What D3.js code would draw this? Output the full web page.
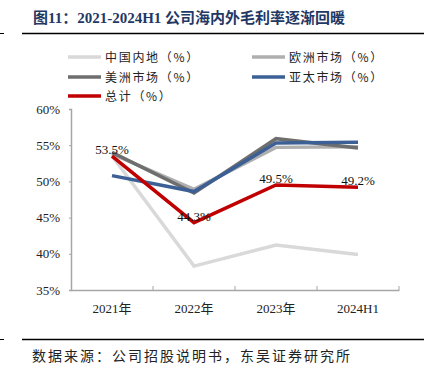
<!DOCTYPE html>
<html>
<head>
<meta charset="utf-8">
<script src="https://cdn.jsdelivr.net/npm/d3@7"></script>
<style>
  body { margin: 0; background: #fff; }
  svg { display: block; }
</style>
</head>
<body>
<div id="chart"></div>
<script>
// datos
const categories = ["2021年", "2022年", "2023年", "2024H1"];
const chinaMainland = [53.5, 38.3, 41.2, 39.9];
const europe = [53.8, 48.9, 54.7, 54.8];
const americas = [54.0, 48.4, 55.9, 54.6];
const asiaPacific = [50.8, 48.6, 55.3, 55.4];
const total = [53.5, 44.3, 49.5, 49.2];
const yTicks = [35, 40, 45, 50, 55, 60];

const series = [
    { name: "中国内地（%）", values: chinaMainland, color: "#d9d9d9" },
    { name: "欧洲市场（%）", values: europe, color: "#afafaf" },
    { name: "美洲市场（%）", values: americas, color: "#6e6e6e" },
    { name: "亚太市场（%）", values: asiaPacific, color: "#3c6095" },
    { name: "总计（%）", values: total, color: "#c00000", labels: true }
];

const W = 429, H = 376;
const svg = d3.select("#chart").append("svg")
    .attr("width", W)
    .attr("height", H);

// Título
svg.append("text")
    .attr("x", 33)
    .attr("y", 23)
    .style("font-family", "'Liberation Serif', 'Noto Sans CJK SC', serif")
    .style("font-weight", "bold")
    .style("font-size", "15px")
    .attr("fill", "#1f3864")
    .text("图11：2021-2024H1 公司海内外毛利率逐渐回暖");

// Líneas de marco
[33.5, 339.5].forEach(yy => {
    svg.append("line").attr("x1", 22).attr("x2", 424).attr("y1", yy).attr("y2", yy)
        .attr("stroke", "#000").attr("stroke-width", 1.5);
    svg.append("line").attr("x1", 0).attr("x2", 4).attr("y1", yy).attr("y2", yy)
        .attr("stroke", "#000").attr("stroke-width", 1);
});

// Fuente
svg.append("text")
    .attr("x", 32)
    .attr("y", 361)
    .style("font-family", "'Noto Sans CJK SC', sans-serif")
    .style("font-size", "14px")
    .style("letter-spacing", "2px")
    .attr("fill", "#222")
    .text("数据来源：公司招股说明书，东吴证券研究所");

// Leyenda
const legendPos = [[68, 57], [252, 57], [68, 77], [252, 77], [68, 96]];
series.forEach((s, i) => {
    const [lx, ly] = legendPos[i];
    svg.append("line")
        .attr("x1", lx).attr("x2", lx + 33).attr("y1", ly).attr("y2", ly)
        .attr("stroke", s.color).attr("stroke-width", 3.5);
    svg.append("text")
        .attr("x", lx + 37)
        .attr("y", ly + 4.5)
        .style("font-family", "'Noto Sans CJK SC', sans-serif")
        .style("font-size", "12px")
        .style("letter-spacing", "1.7px")
        .attr("fill", "#222")
        .text(s.name);
});

// Escalas
const x = d3.scaleBand().domain(categories).range([71, 399]).padding(0);
const y = d3.scaleLinear().domain([35, 60]).range([290, 109]);
const cx = d => x(d) + x.bandwidth() / 2;

// Ejes
const yAxis = svg.append("g")
    .attr("transform", "translate(71,0)")
    .call(d3.axisLeft(y).tickValues(yTicks).tickSize(2).tickPadding(9).tickFormat(d => d + "%"));
yAxis.select(".domain").attr("stroke", "#a6a6a6").attr("stroke-width", 1.5);
yAxis.selectAll(".tick line").attr("stroke", "#a6a6a6");
yAxis.selectAll("text")
    .style("font-family", "'Liberation Serif', serif")
    .style("font-size", "13px")
    .attr("fill", "#222");

const xAxis = svg.append("g")
    .attr("transform", "translate(0,290)")
    .call(d3.axisBottom(x).tickSize(0).tickPadding(14));
xAxis.select(".domain").attr("stroke", "#a6a6a6").attr("stroke-width", 1.5);
xAxis.selectAll("text")
    .style("font-family", "'Liberation Serif', 'Noto Sans CJK SC', serif")
    .style("font-size", "13px")
    .attr("fill", "#222");
xAxis.selectAll(".bound")
    .data(categories)
    .enter().append("line")
    .attr("class", "bound")
    .attr("x1", d => x(d) + x.bandwidth()).attr("x2", d => x(d) + x.bandwidth())
    .attr("y1", 0).attr("y2", -4)
    .attr("stroke", "#a6a6a6");

// Líneas
const line = d3.line()
    .x((d, i) => cx(categories[i]))
    .y(d => y(d));

series.forEach(s => {
    svg.append("path")
        .datum(s.values)
        .attr("fill", "none")
        .attr("stroke", s.color)
        .attr("stroke-width", 3.5)
        .attr("stroke-linejoin", "miter")
        .attr("d", line);
});

// Etiquetas de datos
const red = series.find(s => s.labels);
svg.selectAll(".lbl")
    .data(red.values)
    .enter().append("text")
    .attr("class", "lbl")
    .attr("x", (d, i) => cx(categories[i]))
    .attr("y", d => y(d) - 2)
    .attr("text-anchor", "middle")
    .style("font-family", "'Liberation Serif', serif")
    .style("font-size", "13px")
    .attr("fill", "#111")
    .text(d => d.toFixed(1) + "%");
</script>
</body>
</html>
